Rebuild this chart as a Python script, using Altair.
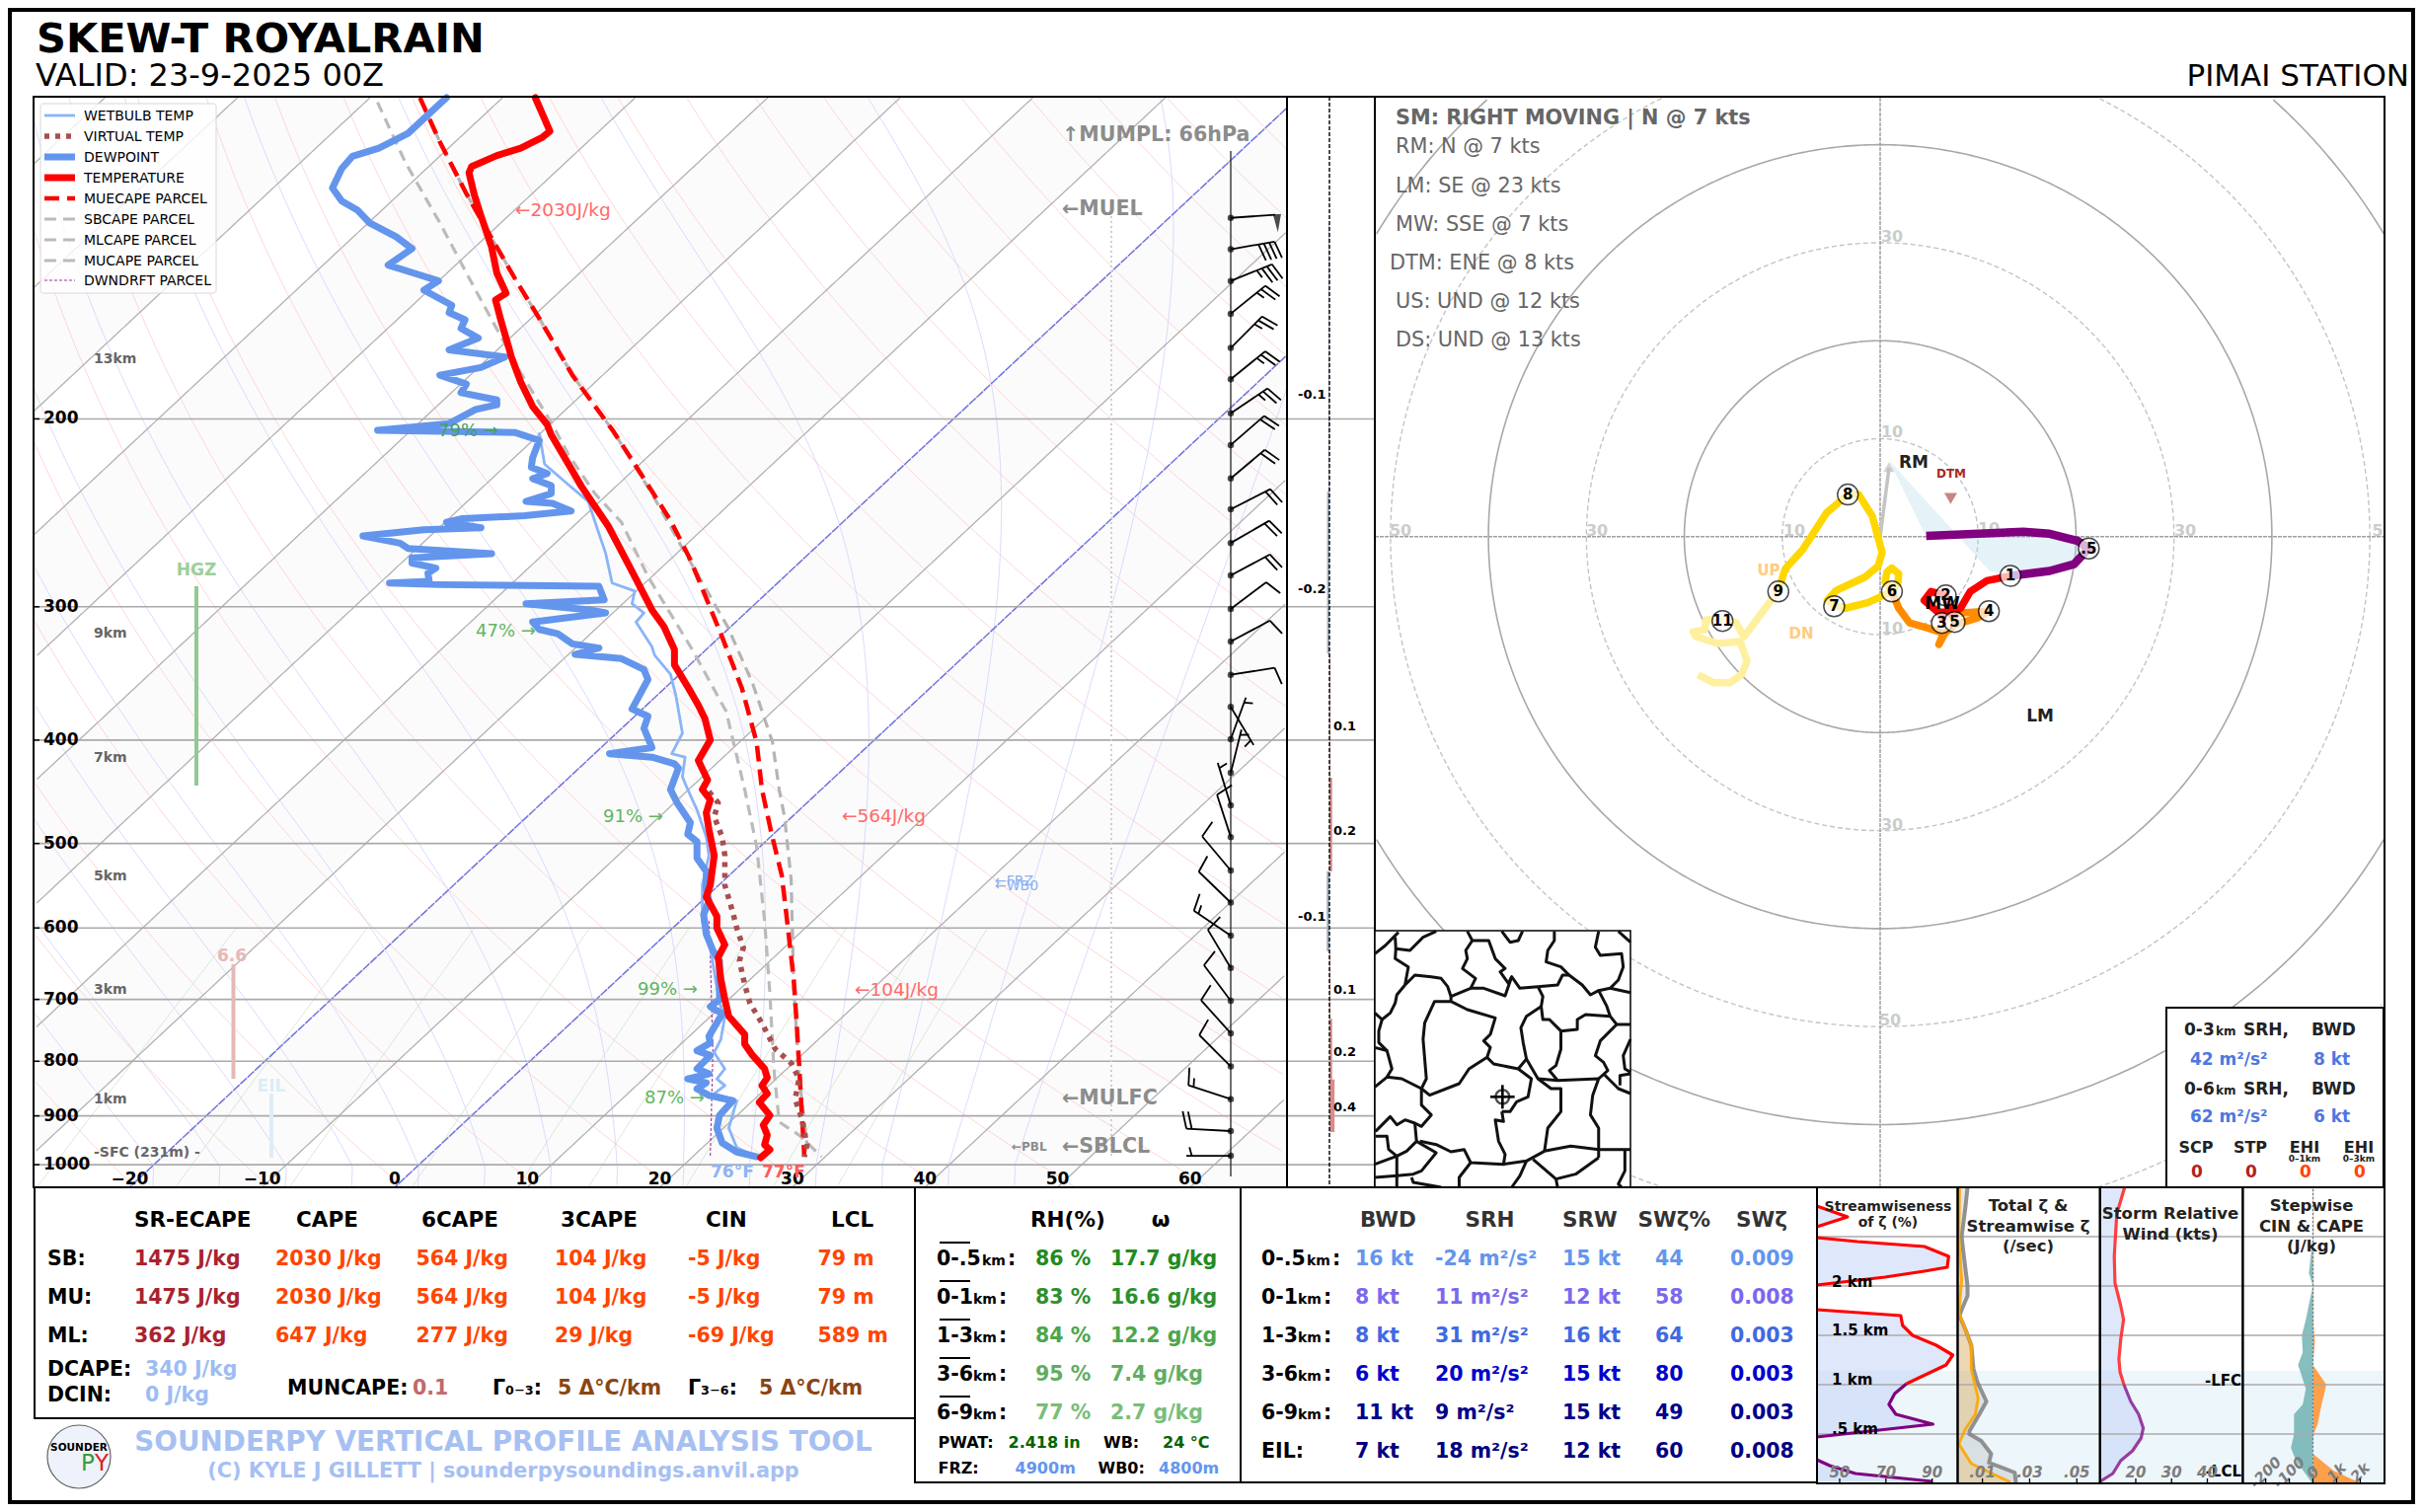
import numpy as np
import pandas as pd
import altair as alt

FONT = "DejaVu Sans"
SKEW = 37.48   # degC of isotherm shift per ln(p)
PK = 469.5     # px per ln(p), only used to lay wind barbs along the pressure axis

# ---------- sounding: pressure (hPa) and temperature read along the isotherm to the base of the chart
temp_p = [100,104,107.5,109,111.5,113.3,116,117.6,123.3,129,138,146,152.5,154.7,161.6,171.4,175,184.7,194.7,202.5,207,220.5,231.5,252,281,302,313,329,340,360,371,382,400,418,436,445,455,468,485,513,547,561,585,600,622,639,670,700,726,755,771,790,813,829,843,858,874,899,918,938,958,968,985]
temp_base = [10.6,11.2,11.7,11.1,9.5,7.7,5.8,5.6,6.0,6.5,7.3,7.7,8.4,7.6,8.0,8.6,8.8,9.5,10.4,11.5,11.8,13.1,14.1,16.1,18.1,19.4,20.3,21.1,21.1,22.3,22.9,23.4,23.8,22.9,23.6,23.2,23.8,23.5,23.7,24.1,23.8,23.5,24.3,24.3,24.9,24.4,24.6,24.9,25.2,26.4,26.4,27.0,27.9,28.1,27.7,28.1,27.5,28.3,27.8,28.1,27.9,28.3,27.6]
dew_p = [100,103.5,108,111.5,113.5,116.5,121.5,125,127.5,131,135,138.5,143.5,146.5,148.5,151.5,156.5,159,161.5,164.5,168,172.3,175,179,182,185.5,189,192,194,196,202,205,206,209.5,217.5,222,225,227.5,231,235,239,240,244,246.5,248,250,253,254,257.5,261.5,264.5,267.5,270,273,276,279,284,285,286,287,295.5,298,302,304,310,315,318,325,328,332.5,335.5,343.5,351,374,380,390,406.5,412,415,421,425,445,458,478,490,498,516,531,551,566,583,608,630,644,700,711,722,747,758,769,782,790,813,822,831,838,849,861,871,899,924,954,973,983]
dew_base = [3.9,2.6,1.0,-1.2,-3.2,-4.0,-4.7,-4.0,-2.8,-1.9,0.1,1.3,-0.5,1.8,3.3,2.2,4.3,4.1,5.3,5.0,6.3,4.1,8.3,6.5,3.4,5.4,5.0,7.7,7.7,6.1,4.1,-1.3,9.1,10.9,10.4,10.3,11.5,10.4,11.8,11.8,9.9,11.9,13.3,9.8,5.1,3.9,6.5,2.2,-2.4,0.4,1.0,7.3,1.3,1.3,3.1,2.5,2.6,-0.4,3.4,15.4,15.8,9.9,14.7,15.9,10.4,10.9,12.3,13.4,15.4,13.6,17.1,18.8,19.1,17.9,19.1,18.8,19.4,16.2,19.4,21.1,21.4,20.8,21.3,22.3,22.1,22.8,22.8,23.5,23.5,23.7,23.3,23.5,24.0,24.5,24.5,23.8,24.7,24.0,23.7,23.8,22.8,23.8,22.8,23.7,22.1,23.5,22.8,23.7,25.5,24.5,24.3,24.7,25.8,27.3]
wet_p = [206,220.5,230,239,254,267,285,290,298,304,310,327,333,347,363,394,412,415,433,445,465,493,513,547,591,626,706,726,763,785,813,831,843,858,871,924,964,983]
wet_base = [10.9,11.3,13.0,14.6,15.3,15.9,16.4,18.1,17.9,18.8,18.2,19.4,19.6,20.8,21.2,21.7,20.9,21.9,21.7,22.1,22.8,23.5,23.7,23.2,23.2,23.8,24.5,24.9,24.6,24.1,24.9,24.3,24.9,24.1,25.8,25.2,25.8,27.3]
virt_p = [447,458,472,493,513,547,580,600,626,644,678,706,737,779,803,831,868,905,958,983]
virt_base = [23.7,24.4,24.1,24.7,24.9,24.9,25.5,25.8,26.3,26.0,26.4,26.8,27.7,28.7,29.9,30.5,30.2,30.7,31.1,30.9]
mue_p = [100,110,123,134,148,162.5,182,205.5,220.5,249,271,318,358,402,445,488,536,591,671,731,803,893,983]
mue_base = [1.9,3.4,5.4,7.1,9.1,11.1,13.4,16.5,18.1,20.8,22.3,24.6,26.2,27.3,27.7,28.4,29.2,29.6,30.1,30.3,30.5,30.7,30.9]
sb_p = [100,110,123,134,148,162.5,182,205.5,235,263,313,354,402,445,472,540,681,826,958,983]
sb_base = [1.9,3.4,5.4,7.1,9.1,11.1,13.4,16.5,19.4,21.6,25.1,27.0,28.5,29.0,29.4,29.9,30.1,30.5,31.1,30.9]
ml_p = [101,115,131,150.7,181,202.5,216,235,250,281,330,376,445,503,591,691,813,912,938,983]
ml_base = [-1.3,0.8,3.4,6.0,9.5,11.9,13.1,15.1,17.1,19.1,22.5,25.0,26.4,27.3,27.9,28.3,28.6,29.0,30.5,32.2]
dd_p = [591,635,785,983]
dd_base = [23.7,23.8,24.0,23.8]

press_ticks = [200,300,400,500,600,700,800,900,1000]
temp_ticks = [-20,-10,0,10,20,30,40,50,60]
temp_labels = ["−20","−10","0","10","20","30","40","50","60"]
mix_ratios = [0.4,1,2,4,7,10,16,24,32]

# ---------- wind barbs
barb_p = [129.6,138.7,148.5,159.4,171.6,183.6,197.6,211.6,227.4,243.1,261.4,280.3,301.4,323.3,347.4,372.4,399.3,429.2,460.6,493.1,530,568,610,654,702,753,809,868,930,981]
barb_dir = [86,80,68,51,45,51,56,49,50,63,60,62,53,62,81,149,20,14,343,342,320,314,304,329,323,318,315,288,273,270]
barb_spd = [50,40,35,25,25,25,25,20,20,20,20,20,10,10,10,5,5,5,5,10,10,10,15,10,10,10,10,15,20,5]

# ---------- vertical velocity
vv_ptop = [131.5,234,332,434,531,631,730,832]
vv_pbot = [234,332,434,531,631,730,832,932]
vv_val = [-0.12,-0.3,0.12,0.35,-0.35,0.12,0.35,0.65]

# ---------- hodograph (u, v in kt)
hodo_purple_u = [4.7,14.6,17.3,20.2,21.3,19.8,17.3,13.3]
hodo_purple_v = [0.07,0.5,0.3,-0.44,-1.2,-2.8,-3.5,-4.0]
hodo_red_u = [13.3,10.9,9.2,8.2,7.6,5.9,4.5,5.2,6.7,7.2,6.3]
hodo_red_v = [-4.0,-4.5,-5.6,-7.3,-7.7,-7.7,-6.5,-5.6,-6.0,-7.3,-8.8]
hodo_orange_u = [6.3,8.0,11.1,9.9,7.6,6.4,6.0,6.6,4.8,3.0,1.9,1.2]
hodo_orange_v = [-8.8,-7.8,-7.6,-8.3,-9.0,-10.0,-11.0,-9.9,-9.3,-8.8,-7.3,-5.6]
hodo_gold_u = [1.2,0.5,0.7,1.2,1.9,1.8,1.2,-1.2,-3.5,-4.7,-5.4,-4.5,-1.5,-0.2,0.2,-0.8,-2.2,-3.3,-5.5,-7.9,-9.7,-10.4]
hodo_gold_v = [-5.6,-4.6,-3.6,-3.2,-3.8,-4.8,-5.6,-6.7,-7.3,-7.0,-6.5,-5.5,-4.1,-3.0,-1.6,2.1,4.3,4.3,2.4,-1.3,-3.3,-5.5]
hodo_pale_u = [-10.4,-13.9,-14.7,-16.1,-17.8,-17.9,-19.1,-18.8,-16.6,-14.3,-13.6,-14.1,-15.3,-17.0,-18.6]
hodo_pale_v = [-5.5,-10.2,-8.8,-8.3,-8.5,-9.5,-9.7,-10.2,-10.9,-10.7,-12.7,-14.0,-14.9,-14.9,-14.1]
hodo_lab = [".5","1","2","3","4","5","6","7","8","9","11"]
hodo_lab_u = [21.3,13.3,6.7,6.3,11.1,7.6,1.2,-4.7,-3.3,-10.4,-16.1]
hodo_lab_v = [-1.2,-4.0,-6.0,-8.8,-7.6,-8.7,-5.6,-7.1,4.3,-5.6,-8.6]
rm_u, rm_v = 0.9, 7.8
srh_v1 = [7.8,0.4]
srh_l1 = [0.9,4.5]
srh_r1 = [0.9,7.65]
srh_v2 = [0.5,0.3,-0.44,-1.2,-2.8,-3.5,-4.0]
srh_l2 = [7.55,7.7,8.4,9.1,10.5,11.2,13.3]
srh_r2 = [14.6,17.3,20.2,21.3,19.8,17.3,13.3]

# ---------- small profile panels (height in km)
sw_red1_p = [40.1,53.4,40.1]; sw_red1_z = [2.81,2.70,2.60]
sw_red2_p = [40.1,57.7,86.6,97.1,96.5,86.6,69.6,40.1]; sw_red2_z = [2.49,2.45,2.40,2.30,2.19,2.15,2.09,2.01]
sw_red3_p = [40.1,76.4,77.2,81.5,91.7,98.9,96.0,78.9]; sw_red3_z = [1.76,1.70,1.60,1.50,1.40,1.30,1.20,1.01]
sw_pur1_p = [78.9,73.8,71.3,74.3,90.3,40.1]; sw_pur1_z = [1.01,0.91,0.80,0.70,0.60,0.47]
sw_pur2_p = [40.1,45.7,56.8,90.0]; sw_pur2_z = [0.24,0.18,0.10,0.02]
tot_v = [.0037,.0028,.0012,.002,.0037,.0037,.0012,.0003,.0028,.0053,.0062,.0078,.0117,.0087,.0045,.0045,.0095,.0137,.0128,.0237,.0242]
tot_z = [3.0,2.8,2.5,2.33,2.0,1.9,1.76,1.7,1.56,1.4,1.16,1.03,.83,.70,.53,.5,.43,.30,.21,.11,.01]
str_v = [.0003,0,.0012,0,.0028,.0053,.0053,.0082,.007,.0028,0,.0053,.022]
str_z = [3.0,2.5,2.06,1.73,1.56,1.4,1.16,.86,.7,.55,.40,.2,.01]
srw_red_v = [16.9,14.7,14.0,14.2,15.8,16.6,15.8,15.3,15.6,16.7]
srw_red_z = [3.0,2.73,2.3,2.03,1.8,1.66,1.46,1.26,1.13,1.0]
srw_pur_v = [16.7,18.6,20.8,22.1,21.5,19.1,15.8,13.6,10.1]
srw_pur_z = [1.0,.83,.7,.56,.46,.33,.23,.1,.02]
cin_v = [0,-8,-17,0,-13,-30,-47,-43,-63,-30,-43,-80,-80,-93,-72,-5]
cin_z = [2.5,2.33,2.13,2.0,1.86,1.66,1.5,1.33,1.2,.96,.8,.7,.5,.36,.23,.01]
cape_v = [30,30,83,0,567,367,200,30,0,867,1950]
cape_z = [3.0,1.6,1.43,1.2,1.0,.8,.6,.5,.3,.13,.01]

# ---------- inset map, borders in grid units of the map square
map_lines = [
 [(8,110),(40,85),(65,60),(80,45)],
 [(70,60),(72,95),(115,100),(155,60),(195,42)],
 [(72,95),(70,125),(110,150),(100,205)],
 [(100,205),(75,235),(70,260),(55,290),(30,310),(8,290)],
 [(100,205),(130,175),(180,180),(210,185),(230,210),(240,240)],
 [(290,42),(305,70),(355,70),(375,125),(405,155),(390,165),(415,200),(425,180),(450,215),(505,210)],
 [(305,70),(285,100),(290,125),(275,155),(315,185),(300,215),(240,240)],
 [(300,215),(340,215),(405,238),(425,180)],
 [(395,42),(420,75),(445,70),(458,42)],
 [(555,42),(555,70),(535,100),(530,135),(575,150),(600,175),(640,205),(665,235),(690,222),(715,270),(725,300)],
 [(690,42),(680,90),(695,115),(760,110),(765,150),(750,190),(725,215),(690,222)],
 [(750,42),(787,75)],
 [(725,215),(787,228)],
 [(505,210),(565,205),(580,175),(600,175)],
 [(505,210),(520,240),(515,270),(520,310),(540,310),(575,345)],
 [(515,270),(470,300),(453,335),(460,380),(470,430),(445,460)],
 [(575,345),(625,340),(625,310),(650,295),(725,300),(745,325),(787,325)],
 [(745,325),(695,375),(680,420),(705,440),(718,465),(690,490)],
 [(575,345),(575,400),(560,450),(540,465),(565,495)],
 [(240,255),(190,255),(160,320),(155,370),(160,430),(165,490),(150,520)],
 [(240,240),(240,255),(290,280),(375,305),(360,355),(340,375),(360,395),(350,425),(295,460),(265,505),(175,540),(150,520)],
 [(350,425),(370,445),(445,460),(485,490),(475,545),(440,560),(420,590),(395,590)],
 [(470,430),(505,490),(545,520),(575,520),(575,590),(535,640),(525,710)],
 [(505,490),(565,495),(690,490),(672,540),(665,600),(690,640),(690,700),(690,730)],
 [(525,710),(605,695),(690,705),(787,705)],
 [(395,590),(400,620),(375,615),(385,680),(405,720),(400,750)],
 [(150,520),(150,570),(180,600),(150,635),(130,625),(100,615),(75,630),(55,605),(10,650)],
 [(130,625),(135,680),(105,710),(75,725),(50,705),(45,665),(10,665)],
 [(8,515),(45,485),(90,490),(150,520)],
 [(8,395),(45,405),(60,460),(45,485)],
 [(30,310),(20,345),(20,380),(45,405)],
 [(135,680),(195,715),(150,770),(125,780),(75,785),(8,790)],
 [(145,680),(195,690),(240,712),(280,705),(300,745),(400,750),(470,740),(525,710)],
 [(75,725),(75,820)],
 [(8,750),(75,725)],
 [(300,745),(265,790),(265,820)],
 [(470,740),(450,785),(425,820)],
 [(490,735),(560,795),(565,820)],
 [(690,730),(620,780),(560,795)],
 [(770,705),(770,770),(750,810),(760,820)],
 [(120,790),(125,805),(210,820)],
 [(787,370),(765,420),(770,460),(787,470)],
 [(705,475),(750,520),(787,535)],
 [(787,475),(755,480),(755,510)],
]
station_x, station_y = 397, 545

# ---------- tables
cape_rows = ["SB:","MU:","ML:"]
srecape = ["1475 J/kg","1475 J/kg","362 J/kg"]
cape = ["2030 J/kg","2030 J/kg","647 J/kg"]
cape6 = ["564 J/kg","564 J/kg","277 J/kg"]
cape3 = ["104 J/kg","104 J/kg","29 J/kg"]
cin = ["-5 J/kg","-5 J/kg","-69 J/kg"]
lcl = ["79 m","79 m","589 m"]
layer_names = ["0-.5","0-1","1-3","3-6","6-9"]
rh_vals = ["86 %","83 %","84 %","95 %","77 %"]
w_vals = ["17.7 g/kg","16.6 g/kg","12.2 g/kg","7.4 g/kg","2.7 g/kg"]
bwd = ["16 kt","8 kt","8 kt","6 kt","11 kt","7 kt"]
srh = ["-24 m²/s²","11 m²/s²","31 m²/s²","20 m²/s²","9 m²/s²","18 m²/s²"]
srw = ["15 kt","12 kt","16 kt","15 kt","15 kt","12 kt"]
swz_pct = ["44","58","64","80","49","60"]
swz = ["0.009","0.008","0.003","0.003","0.003","0.008"]
sm_lines = ["RM: N @ 7 kts","LM: SE @ 23 kts","MW: SSE @ 7 kts","DTM: ENE @ 8 kts","US: UND @ 12 kts","DS: UND @ 13 kts"]

layers = []
ONE = alt.Data(values=[{"k": 1}])


def V(v):
    return alt.value(v - 8)


def sc(a, b, c, d, kind=None):
    kw = dict(domain=[a, b], range=[c - 8, d - 8], nice=False, zero=False)
    if kind:
        kw["type"] = kind
    return alt.Scale(**kw)


SKX = sc(-27.25, 67.31, 34, 1304)
SKY = sc(100, 1050, 99, 1203, "log")
VVX = sc(-5.375, 5.75, 1304, 1393)
BARX = sc(-100, 100, 1147, 1347)
HX = sc(-51.6, 51.5, 1393, 2416)
HY = sc(-66.4, 44.9, 1203, 98)
MX = sc(8, 787, 1393, 1652)
MY = sc(40, 820, 943, 1203)
ZY = sc(0, 3, 1503, 1203)
SWX = sc(40.2, 101, 1841, 1983.5)
TOTX = sc(-0.0005, 0.0598, 1983.5, 2127.7)
SRWX = sc(10, 49.9, 2127.7, 2272.4)
CINX = sc(-297, 303, 2272.4, 2416)
CAPEX = sc(-2970, 3030, 2272.4, 2416)


def text(x, y, s, size, color="#000000", bold=False, align="left", base="alphabetic", angle=None, op=None, italic=False):
    kw = dict(text=s, fontSize=size, font=FONT, align=align, baseline=base, color=color)
    if bold:
        kw["fontWeight"] = "bold"
    if angle is not None:
        kw["angle"] = angle
    if op is not None:
        kw["opacity"] = op
    if italic:
        kw["fontStyle"] = "italic"
    layers.append(alt.Chart(ONE).mark_text(**kw).encode(x=V(x), y=V(y)))


def rect(x0, y0, x1, y1, fill="#ffffff", fop=1, stroke=None, sw=1, radius=None):
    kw = dict(fill=fill, fillOpacity=fop)
    if stroke:
        kw.update(stroke=stroke, strokeWidth=sw)
    if radius:
        kw["cornerRadius"] = radius
    layers.append(alt.Chart(ONE).mark_rect(**kw).encode(x=V(x0), x2=V(x1), y=V(y0), y2=V(y1)))


def rule(x0, y0, x1, y1, color="#000000", width=1, dash=None, op=None):
    kw = dict(color=color, strokeWidth=width)
    if dash:
        kw["strokeDash"] = dash
    if op is not None:
        kw["opacity"] = op
    layers.append(alt.Chart(ONE).mark_rule(**kw).encode(x=V(x0), x2=V(x1), y=V(y0), y2=V(y1)))


def line(x, y, XS, YS, color, width, dash=None, op=None, seg=None, cap=None):
    d = pd.DataFrame({"x": x, "y": y})
    d["i"] = np.arange(len(d))
    kw = dict(color=color, strokeWidth=width, strokeJoin="round")
    if dash:
        kw["strokeDash"] = dash
    if op is not None:
        kw["opacity"] = op
    if cap:
        kw["strokeCap"] = cap
    enc = dict(x=alt.X("x:Q", scale=XS, axis=None), y=alt.Y("y:Q", scale=YS, axis=None), order="i:Q")
    if seg is not None:
        d["s"] = seg
        enc["detail"] = "s:N"
    layers.append(alt.Chart(d).mark_line(**kw).encode(**enc))


def area_h(x, x2, y, XS, YS, color, op=1.0, seg=None):
    d = pd.DataFrame({"x": x, "x2": x2, "y": y})
    enc = dict(x=alt.X("x:Q", scale=XS, axis=None), x2="x2:Q", y=alt.Y("y:Q", scale=YS, axis=None))
    if seg is not None:
        d["s"] = seg
        enc["detail"] = "s:N"
    layers.append(alt.Chart(d).mark_area(orient="horizontal", color=color, opacity=op).encode(**enc))


def point(x, y, XS, YS, shape, size, fill, stroke=None, sw=0, op=None):
    d = pd.DataFrame({"x": np.atleast_1d(x), "y": np.atleast_1d(y)})
    kw = dict(shape=shape, size=size, filled=True, fill=fill)
    if stroke:
        kw.update(stroke=stroke, strokeWidth=sw)
    if op is not None:
        kw["opacity"] = op
    layers.append(alt.Chart(d).mark_point(**kw).encode(x=alt.X("x:Q", scale=XS, axis=None), y=alt.Y("y:Q", scale=YS, axis=None)))


# ---------- black frame along the edge of the canvas
rect(8, 8, 2447, 1524, fill="#000000")
rect(12, 12, 2443, 1520, fill="#ffffff")

# ---------- background lines of the skew-T
LOGP = np.exp(np.linspace(np.log(100), np.log(1050), 300))
XMIN, XMAX = -27.25, 67.31


def to_base(t, p):
    return np.asarray(t) + SKEW * np.log(1050 / np.asarray(p))


def iso_table(curves):
    xs, ys, ss = [], [], []
    for k, (tt, pp) in enumerate(curves):
        b = to_base(tt, pp)
        m = (b >= XMIN) & (b <= XMAX)
        xs += list(b[m]); ys += list(pp[m]); ss += [k] * int(m.sum())
    return xs, ys, ss


bx, bx2, by, bs = [], [], [], []
for k, t0 in enumerate(range(-100, 80, 20)):
    b1 = np.clip(to_base(t0, LOGP), XMIN, XMAX)
    b2 = np.clip(to_base(t0 + 10, LOGP), XMIN, XMAX)
    bx += list(b1); bx2 += list(b2); by += list(LOGP); bs += [k] * len(LOGP)
area_h(bx, bx2, by, SKX, SKY, "#fbfbfb", seg=bs)

dry = [((th * (LOGP / 1000) ** 0.286) - 273.15, LOGP) for th in range(220, 500, 10)]
line(*iso_table(dry)[:2], SKX, SKY, "#ffcaca", 0.8, seg=iso_table(dry)[2])


def moist_curve(t1000):
    pgrid = LOGP[::-1]
    t = t1000 + 273.15
    i0 = int(np.argmin(np.abs(pgrid - 1000)))
    tv = np.zeros(len(pgrid))
    tv[i0] = t
    for i in range(i0, len(pgrid) - 1):
        es = 6.112 * np.exp(17.67 * (t - 273.15) / (t - 29.65))
        rs = 0.622 * es / (pgrid[i] - es)
        g = (287.0 * t + 2.5e6 * rs) / (1004.0 + 2.5e6 ** 2 * rs * 0.622 / (287.0 * t * t))
        t = t + g * np.log(pgrid[i + 1] / pgrid[i])
        tv[i + 1] = t
    tv[:i0] = tv[i0] + 0.35 * (pgrid[:i0] - 1000) / 10
    return tv[::-1] - 273.15, LOGP


moist = [moist_curve(t) for t in range(-20, 50, 5)]
mx, my, ms = iso_table(moist)
line(mx, my, SKX, SKY, "#d0d0ff", 0.8, seg=ms)

mixp = np.linspace(600, 1050, 40)
mix = []
for w in mix_ratios:
    e = mixp * w / (622 + w)
    le = np.log(e / 6.112)
    mix.append((243.5 * le / (17.67 - le), mixp))
hx, hy, hs = iso_table(mix)
line(hx, hy, SKX, SKY, "#cfe2cf", 0.8, seg=hs)

ix, iy, iss = [], [], []
for k, t in enumerate([t for t in range(-120, 80, 10) if t not in (0, -20)]):
    b = to_base(t, LOGP)
    m = (b >= XMIN) & (b <= XMAX)
    ix += list(b[m]); iy += list(LOGP[m]); iss += [k] * int(m.sum())
line(ix, iy, SKX, SKY, "#b2b2b2", 1.3, seg=iss)
ix, iy, iss = [], [], []
for k, t in enumerate([-20, 0]):
    b = to_base(t, LOGP)
    m = (b >= XMIN) & (b <= XMAX)
    ix += list(b[m]); iy += list(LOGP[m]); iss += [k] * int(m.sum())
line(ix, iy, SKX, SKY, "#7474dc", 1.5, dash=[9, 1], seg=iss)

# pressure grid through skew-T and vertical-velocity panel
layers.append(alt.Chart(pd.DataFrame({"p": press_ticks})).mark_rule(color="#aaaaaa", strokeWidth=1.6).encode(
    y=alt.Y("p:Q", scale=SKY, axis=None), x=V(34), x2=V(1393)))
layers.append(alt.Chart(pd.DataFrame({"p": press_ticks})).mark_rule(color="#000000", strokeWidth=1.5).encode(
    y=alt.Y("p:Q", scale=SKY, axis=None), x=V(34), x2=V(40)))

# hazard / layer bars
rule(199, 594, 199, 796, "#93c993", 4)
text(199, 583, "HGZ", 17, "#9ccf9c", True, "center")
rule(236.5, 977, 236.5, 1093, "#e6b8b8", 4)
text(235, 974, "6.6", 17, "#e6b8b8", True, "center")
rule(275, 1108, 275, 1173, "#dcedf5", 4)
text(275, 1106, "EIL", 17, "#dcedf5", True, "center")

# MUEL-SBLCL dotted
rule(1126, 219, 1126, 1171, "#cfcfcf", 2, dash=[2, 3])

# profiles
line(dd_base, dd_p, SKX, SKY, "#a030a0", 1.1, dash=[3, 2])
line(ml_base, ml_p, SKX, SKY, "#bbbbbb", 3.2, dash=[11, 7])
line(sb_base, sb_p, SKX, SKY, "#b4b4b4", 3.2, dash=[11, 7])
line(mue_base, mue_p, SKX, SKY, "#ff0000", 4.5, dash=[16, 8])
line(wet_base, wet_p, SKX, SKY, "#8ab4f8", 2.8)
line(dew_base, dew_p, SKX, SKY, "#6495ed", 7, cap="round")
line(virt_base, virt_p, SKX, SKY, "#a84f4f", 5.5, dash=[5, 6])
line(temp_base, temp_p, SKX, SKY, "#ff0000", 7, cap="round")

# wind barbs
rule(1247, 153, 1247, 1192, "#333333", 1.4)
bx, by, bs, bi = [], [], [], 0
pen_x, pen_y = [], []
for p0, dirn, spd in zip(barb_p, barb_dir, barb_spd):
    th = np.radians(dirn)
    sx, sy = np.sin(th), np.cos(th)
    cw = th + np.radians(75)
    cx, cy = np.sin(cw), np.cos(cw)

    def seg(a, b):
        global bi
        for (dx, dy) in (a, b):
            bx.append(dx); by.append(p0 * np.exp(-dy / PK)); bs.append(bi)
        bi += 1

    seg((0, 0), (45 * sx, 45 * sy))
    rem, pos = spd, 45.0
    if rem >= 50:
        pen_x.append(45 * sx + 9 * cx - 1); pen_y.append(p0 * np.exp(-(45 * sy + 9 * cy) / PK))
        rem -= 50
    while rem >= 10:
        seg((pos * sx, pos * sy), (pos * sx + 18 * cx, pos * sy + 18 * cy))
        pos -= 5.5; rem -= 10
    if rem >= 5:
        if pos == 45.0:
            pos -= 5.5
        seg((pos * sx, pos * sy), (pos * sx + 9 * cx, pos * sy + 9 * cy))
line(bx, by, BARX, SKY, "#000000", 1.8, seg=bs)
point(pen_x, pen_y, BARX, SKY, "M-0.45,-1 L0.45,-1 L0.1,1 Z", 330, "#000000")
point([0] * len(barb_p), barb_p, BARX, SKY, "circle", 42, "#000000")

# tick labels on the skew-T
layers.append(alt.Chart(pd.DataFrame({"p": press_ticks, "t": [str(v) for v in press_ticks]})).mark_text(
    fontSize=17, font=FONT, fontWeight="bold", align="left", baseline="middle", color="#000000").encode(
    y=alt.Y("p:Q", scale=SKY, axis=None), x=V(44), text="t:N"))
layers.append(alt.Chart(pd.DataFrame({"v": temp_ticks, "t": temp_labels})).mark_text(
    fontSize=17, font=FONT, fontWeight="bold", align="center", baseline="alphabetic", color="#000000").encode(
    x=alt.X("v:Q", scale=SKX, axis=None), y=V(1200), text="t:N"))
for lab, yy in [("13km", 368), ("9km", 646), ("7km", 772), ("5km", 892), ("3km", 1007), ("1km", 1118), ("-SFC (231m) -", 1172)]:
    text(95, yy, lab, 14, "#666666", True)
text(720, 1193, "76°F", 17, "#8db4f5", True)
text(772, 1193, "77°F", 17, "#ff5a5a", True)
text(1076, 143, "↑MUMPL: 66hPa", 20.6, "#8c8c8c", True)
text(1076, 218, "←MUEL", 20.6, "#8c8c8c", True)
text(1076, 1119, "←MULFC", 20.6, "#8c8c8c", True)
text(1076, 1168, "←SBLCL", 20.6, "#8c8c8c", True)
text(1025, 1166, "←PBL", 12, "#8c8c8c", True)
text(1008, 897, "←FRZ", 14, "#8ab0f5")
text(1008, 902, "←WB0", 14, "#8ab0f5")
text(522, 219, "←2030J/kg", 18.5, "#ff6a6a")
text(853, 833, "←564J/kg", 18.5, "#ff6a6a")
text(866, 1009, "←104J/kg", 18.5, "#ff6a6a")
text(444, 442, "79% →", 18, "#45a060")
text(482, 645, "47% →", 18, "#62b562")
text(611, 833, "91% →", 18, "#62b562")
text(646, 1008, "99% →", 18, "#62b562")
text(653, 1118, "87% →", 18, "#62b562")

# legend
rect(41, 105, 219, 297, "#ffffff", 0.8, "#d8d8d8", 1, 3)
leg = [("WETBULB TEMP", 117, "#8ab4f8", 2.8, None), ("VIRTUAL TEMP", 138, "#a84f4f", 5.5, [5, 6]), ("DEWPOINT", 159, "#6495ed", 7, None),
       ("TEMPERATURE", 180, "#ff0000", 7, None), ("MUECAPE PARCEL", 201, "#ff0000", 4.5, [15, 8]), ("SBCAPE PARCEL", 222, "#bbbbbb", 3.2, [12, 7]),
       ("MLCAPE PARCEL", 243, "#bbbbbb", 3.2, [12, 7]), ("MUCAPE PARCEL", 264, "#bbbbbb", 3.2, [12, 7]), ("DWNDRFT PARCEL", 284, "#a030a0", 1.1, [3, 2])]
for name, yy, col, wd, ds in leg:
    rule(45, yy, 76, yy, col, wd, ds)
    text(85, yy + 5, name, 14, "#000000")

rect(34, 98, 1304, 1203, fop=0, stroke="#000000", sw=2)

# ---------- vertical velocity panel
d = pd.DataFrame({"a": vv_ptop, "b": vv_pbot, "v": vv_val, "z": [0.0] * len(vv_val),
                  "c": ["neg" if v < 0 else "pos" for v in vv_val]})
for key, col in (("neg", "#a3adc4"), ("pos", "#d98c8c")):
    layers.append(alt.Chart(d[d.c == key]).mark_rect(color=col).encode(
        x=alt.X("z:Q", scale=VVX, axis=None), x2="v:Q", y=alt.Y("a:Q", scale=SKY, axis=None), y2="b:Q"))
rule(1347, 98, 1347, 1203, "#000000", 1.4, dash=[4, 2])
for lab, xx, yy in [("-0.1", 1315, 399.6), ("-0.2", 1315, 597), ("0.1", 1351, 735.6), ("0.2", 1351, 841.7), ("-0.1", 1315, 929),
                    ("0.1", 1351, 1003), ("0.2", 1351, 1066), ("0.4", 1351, 1122)]:
    text(xx, yy, lab, 13, "#000000", True, base="middle")
rect(1304, 98, 1393, 1203, fop=0, stroke="#000000", sw=2)

# ---------- hodograph
for radii, col, wd, dash in (((10, 30, 50, 70), "#c4c4c4", 1.4, [5, 3]), ((20, 40, 60, 80), "#a8a8a8", 1.6, None)):
    ux, vy, ss, s = [], [], [], 0
    for r in radii:
        a = np.radians(np.arange(0, 360.5, 0.5))
        uu, vv = r * np.cos(a), r * np.sin(a)
        inside = (uu > -51.6) & (uu < 51.5) & (vv > -66.4) & (vv < 44.9)
        prev = False
        for i in range(len(a)):
            if inside[i]:
                if not prev:
                    s += 1
                ux.append(uu[i]); vy.append(vv[i]); ss.append(s)
            prev = inside[i]
    line(ux, vy, HX, HY, col, wd, dash=dash, seg=ss)
line([-51.6, 51.5], [0, 0], HX, HY, "#a0a0a0", 1.5, dash=[4, 1])
line([0, 0], [-66.4, 44.9], HX, HY, "#a0a0a0", 1.5, dash=[4, 1])
for lab, xx, yy in [("10", 1917, 443), ("30", 1917, 245), ("50", 1915, 1039), ("10", 1917, 642), ("30", 1917, 841), ("10", 1818, 543),
                    ("30", 1618, 543), ("50", 1419, 543), ("10", 2015, 541), ("30", 2214, 543), ("5", 2409, 543)]:
    text(xx, yy, lab, 16, "#cccccc", True, "center")

area_h(srh_l1, srh_r1, srh_v1, HX, HY, "#add8e6", 0.32)
area_h(srh_l2, srh_r2, srh_v2, HX, HY, "#add8e6", 0.32)
line([0, rm_u], [0, rm_v - 0.8], HX, HY, "#c4c4c4", 3.5)
point(rm_u, rm_v - 0.7, HX, HY, "triangle-up", 130, "#c0c0c0")
line(hodo_pale_u, hodo_pale_v, HX, HY, "#fff0a0", 7.5)
line(hodo_gold_u, hodo_gold_v, HX, HY, "#ffd700", 7.5)
line(hodo_orange_u, hodo_orange_v, HX, HY, "#ff8c00", 7.5)
line(hodo_red_u, hodo_red_v, HX, HY, "#ff0000", 7.5)
line(hodo_purple_u, hodo_purple_v, HX, HY, "#800080", 8.5)
point(hodo_lab_u, hodo_lab_v, HX, HY, "circle", 441, "#ffffff", "#000000", 1.5)
layers.append(alt.Chart(pd.DataFrame({"u": hodo_lab_u, "v": hodo_lab_v, "t": hodo_lab})).mark_text(
    fontSize=15, font=FONT, fontWeight="bold", align="center", baseline="middle", color="#000000").encode(
    x=alt.X("u:Q", scale=HX, axis=None), y=alt.Y("v:Q", scale=HY, axis=None), text="t:N"))
text(1939, 474, "RM", 17, "#222222", True, "center")
text(2067, 731, "LM", 17, "#222222", True, "center")
text(1968, 617, "MW", 17, "#000000", True, "center")
text(1977, 484, "DTM", 12, "#a52a2a", True, "center")
point(7.2, 3.9, HX, HY, "triangle-down", 170, "#b05050")
text(1792, 583, "UP", 15, "#ffcc80", True, "center")
text(1825, 647, "DN", 15, "#ffcc80", True, "center")
text(1414, 126, "SM: RIGHT MOVING | N @ 7 kts", 20.8, "#666666", True)
for s, xx, yy in zip(sm_lines, [1414, 1414, 1414, 1408, 1414, 1414], [155, 195, 234, 273, 312, 351]):
    text(xx, yy, s, 20.8, "#666666")
rect(1393, 98, 2416, 1203, fop=0, stroke="#000000", sw=2)

# inset map
rect(1393, 943, 1652, 1203, stroke="#000000", sw=1.5)
mxs, mys, mss = [], [], []
for k, pl in enumerate(map_lines):
    for a, b in pl:
        mxs.append(a); mys.append(b); mss.append(k)
line(mxs, mys, MX, MY, "#111111", 3, seg=mss)
point(station_x, station_y, MX, MY, "circle", 196, "none", "#000000", 2.4)
line([station_x - 37, station_x + 37], [station_y, station_y], MX, MY, "#000000", 2.6)
line([station_x, station_x], [station_y - 36, station_y + 36], MX, MY, "#000000", 2.6)

# small storm table
rect(2195, 1021, 2415, 1203, stroke="#000000", sw=2)
for base, lab, val1, val2, yv in [(1049, "0-3", "42 m²/s²", "8 kt", 1079), (1109, "0-6", "62 m²/s²", "6 kt", 1137)]:
    text(2213, base, lab, 17, "#222222", True)
    text(2245, base, "km", 12, "#222222", True)
    text(2273, base, "SRH,", 17, "#222222", True)
    text(2342, base, "BWD", 17, "#222222", True)
    text(2219, yv, val1, 17, "#4f76e0", True)
    text(2344, yv, val2, 17, "#4f76e0", True)
for lab, cx, col in [("SCP", 2225, "#b22222"), ("STP", 2280, "#b22222"), ("EHI", 2335, "#ff4500"), ("EHI", 2390, "#ff4500")]:
    text(cx, 1168, lab, 16, "#222222", True, "center")
    text(cx + 1, 1193, "0", 17, col, True, "center")
text(2335, 1177, "0–1km", 9, "#222222", True, "center")
text(2390, 1177, "0–3km", 9, "#222222", True, "center")

# ---------- header
text(37, 53, "SKEW-T ROYALRAIN", 41.6, "#000000", True)
text(36, 87, "VALID: 23-9-2025 00Z", 32, "#000000")
text(2441, 87, "PIMAI STATION", 31, "#000000", align="right")

# ---------- table 1
rect(35, 1203, 927, 1437, stroke="#000000", sw=2)
for lab, xx in [("SR-ECAPE", 136), ("CAPE", 300), ("6CAPE", 427), ("3CAPE", 568), ("CIN", 715), ("LCL", 842)]:
    text(xx, 1243, lab, 21.5, "#000000", True)
for i, yy in enumerate([1282, 1321, 1360]):
    text(48, yy, cape_rows[i], 20.5, "#000000", True)
    text(136, yy, srecape[i], 20.5, "#a8232f", True)
    text(279, yy, cape[i], 20.5, "#ff4500", True)
    text(421.5, yy, cape6[i], 20.5, "#ff4500", True)
    text(562, yy, cape3[i], 20.5, "#ff4500", True)
    text(697, yy, cin[i], 20.5, "#ff4500", True)
    text(828.5, yy, lcl[i], 20.5, "#ff4500", True)
text(48, 1394, "DCAPE:", 20.5, "#000000", True)
text(147, 1394, "340 J/kg", 20.5, "#9dbcf2", True)
text(48, 1420, "DCIN:", 20.5, "#000000", True)
text(147, 1420, "0 J/kg", 20.5, "#9dbcf2", True)
text(291, 1413, "MUNCAPE:", 20.5, "#000000", True)
text(418, 1413, "0.1", 20.5, "#c06a6a", True)
text(499, 1413, "Γ₀₋₃:", 20.5, "#000000", True)
text(565, 1413, "5 Δ°C/km", 20.5, "#8b4513", True)
text(697, 1413, "Γ₃₋₆:", 20.5, "#000000", True)
text(769, 1413, "5 Δ°C/km", 20.5, "#8b4513", True)

# logo + footer
point(0, 0, sc(-1, 1, 79, 81), sc(-1, 1, 1477, 1475), "circle", 4096, "#e8eefa", "#222222", 1.2)
text(80, 1470, "SOUNDER", 10.5, "#000000", True, "center")
text(82, 1490, "P", 23, "#3a9a3a", False)
text(96, 1490, "Y", 23, "#e02020", False)
text(510, 1470, "SOUNDERPY VERTICAL PROFILE ANALYSIS TOOL", 27.8, "#a7c0f2", True, "center")
text(510, 1497, "(C) KYLE J GILLETT | sounderpysoundings.anvil.app", 20.8, "#a7c0f2", True, "center")

# ---------- table 2
rect(927, 1203, 1257, 1502, stroke="#000000", sw=2)
text(1044, 1243, "RH(%)", 21.5, "#000000", True)
text(1176, 1243, "ω", 21.5, "#000000", True, "center")
rh_cols = ["#228b22", "#2e8f2e", "#4ca64c", "#60ad60", "#79bd79"]
row_y = [1282, 1321, 1360, 1399, 1438, 1477]
for i, nm in enumerate(layer_names):
    yy = row_y[i]
    off = 0 if i == 0 else -9
    rule(952, yy - 23, 983, yy - 23, "#000000", 2)
    text(949, yy, nm, 20.5, "#000000", True)
    text(995 + off, yy, "km", 14, "#000000", True)
    text(1021 + off, yy, ":", 20.5, "#000000", True)
    text(1049, yy, rh_vals[i], 20.5, rh_cols[i], True)
    text(1125, yy, w_vals[i], 20.5, rh_cols[i], True)
text(950.5, 1467, "PWAT:", 16, "#000000", True)
text(1021.5, 1467, "2.418 in", 16, "#006400", True)
text(1118, 1467, "WB:", 16, "#000000", True)
text(1178, 1467, "24 °C", 16, "#006400", True)
text(950.5, 1493, "FRZ:", 16, "#000000", True)
text(1028.6, 1493, "4900m", 16, "#6495ed", True)
text(1112.5, 1493, "WB0:", 16, "#000000", True)
text(1174, 1493, "4800m", 16, "#6495ed", True)

# ---------- table 3
rect(1257, 1203, 1841, 1502, stroke="#000000", sw=2)
for lab, xx in [("BWD", 1378), ("SRH", 1484.5), ("SRW", 1583), ("SWζ%", 1659.5), ("SWζ", 1759)]:
    text(xx, 1243, lab, 21.5, "#333333", True)
rcols = ["#6495ed", "#7b68ee", "#4169e1", "#0000cd", "#00008b", "#000080"]
for i in range(6):
    yy = row_y[i]
    if i < 5:
        off = 0 if i == 0 else -9
        text(1278, yy, layer_names[i], 20.5, "#000000", True)
        text(1324 + off, yy, "km", 14, "#000000", True)
        text(1350 + off, yy, ":", 20.5, "#000000", True)
    else:
        text(1278, yy, "EIL:", 20.5, "#000000", True)
    text(1373, yy, bwd[i], 20.5, rcols[i], True)
    text(1454, yy, srh[i], 20.5, rcols[i], True)
    text(1583, yy, srw[i], 20.5, rcols[i], True)
    text(1677, yy, swz_pct[i], 20.5, rcols[i], True)
    text(1753, yy, swz[i], 20.5, rcols[i], True)

# ---------- profile panels
layers.append(alt.Chart(pd.DataFrame({"a": [1.14], "b": [0.0]})).mark_rect(color="#add8e6", opacity=0.22).encode(
    y=alt.Y("a:Q", scale=ZY, axis=None), y2="b:Q", x=V(1841), x2=V(2416)))
sw_all_p = sw_red1_p + sw_red2_p + sw_red3_p + sw_pur1_p[1:] + sw_pur2_p
sw_all_z = sw_red1_z + sw_red2_z + sw_red3_z + sw_pur1_z[1:] + sw_pur2_z
area_h(sw_all_p, [40.2] * len(sw_all_p), sw_all_z, SWX, ZY, "#c5d3f5", 0.55)
srw_all_v, srw_all_z = srw_red_v + srw_pur_v[1:], srw_red_z + srw_pur_z[1:]
area_h(srw_all_v, [10] * len(srw_all_v), srw_all_z, SRWX, ZY, "#c5d3f5", 0.55)
area_h(tot_v, [0] * len(tot_v), tot_z, TOTX, ZY, "#a0a0a0", 0.25)
area_h(str_v, [0] * len(str_v), str_z, TOTX, ZY, "#ffa500", 0.22)
area_h(cin_v, [0] * len(cin_v), cin_z, CINX, ZY, "#5fa8a8", 0.75)
area_h(cape_v, [0] * len(cape_v), cape_z, CAPEX, ZY, "#ff9a40", 0.95)
layers.append(alt.Chart(pd.DataFrame({"z": [0.5, 1.0, 1.5, 2.0, 2.5]})).mark_rule(color="#aaaaaa", strokeWidth=1.5).encode(
    y=alt.Y("z:Q", scale=ZY, axis=None), x=V(1841), x2=V(2416)))
line([0, 0], [0, 3], CINX, ZY, "#5588aa", 1.3, dash=[2, 2])
for xs_, zs_, col in [(sw_red1_p, sw_red1_z, "#ff0000"), (sw_red2_p, sw_red2_z, "#ff0000"), (sw_red3_p, sw_red3_z, "#ff0000"),
                      (sw_pur1_p, sw_pur1_z, "#800080"), (sw_pur2_p, sw_pur2_z, "#800080")]:
    line(xs_, zs_, SWX, ZY, col, 3.2)
line(tot_v, tot_z, TOTX, ZY, "#808080", 4, op=0.85)
line(str_v, str_z, TOTX, ZY, "#ffa500", 3, op=0.9)
line(srw_red_v, srw_red_z, SRWX, ZY, "#ff2020", 3.2, op=0.85)
line(srw_pur_v, srw_pur_z, SRWX, ZY, "#8a1f90", 3.2, op=0.85)

for lab, yy in [("2 km", 1304), (".5 km", 1453), ("1 km", 1403), ("1.5 km", 1353)]:
    text(1856, yy, lab, 15, "#000000", True)
text(2271, 1404, "-LFC", 15, "#000000", True, "right")
text(2271, 1496, "-LCL", 15, "#000000", True, "right")


def ticks(vals, labs, XS, angle=None):
    d = pd.DataFrame({"v": vals, "t": labs})
    kw = dict(fontSize=15, font=FONT, fontWeight="bold", fontStyle="italic", color="#7d7d7d", align="center", baseline="middle")
    if angle:
        kw["angle"] = angle
    layers.append(alt.Chart(d).mark_text(**kw).encode(x=alt.X("v:Q", scale=XS, axis=None), y=V(1492), text="t:N"))
    layers.append(alt.Chart(d).mark_rule(color="#000000", strokeWidth=1.3).encode(x=alt.X("v:Q", scale=XS, axis=None), y=V(1498), y2=V(1503)))


ticks([50, 70, 90], ["50", "70", "90"], SWX)
ticks([.01, .03, .05], [".01", ".03", ".05"], TOTX)
ticks([20, 30, 40], ["20", "30", "40"], SRWX)
ticks([-200, -100, 0, 100, 200], ["-200", "-100", "0", "1k", "2k"], CINX, angle=315)

text(1913, 1227, "Streamwiseness", 14, "#222222", True, "center")
text(1913, 1243, "of ζ (%)", 14, "#222222", True, "center")
for s, yy in [("Total ζ &", 1227), ("Streamwise ζ", 1248), ("(/sec)", 1268)]:
    text(2055, yy, s, 16.5, "#222222", True, "center")
for s, yy in [("Storm Relative", 1235), ("Wind (kts)", 1256)]:
    text(2199, yy, s, 16.5, "#222222", True, "center")
for s, yy in [("Stepwise", 1227), ("CIN & CAPE", 1248), ("(J/kg)", 1268)]:
    text(2342, yy, s, 16.5, "#222222", True, "center")

for x0, x1 in [(1841, 1983.5), (1983.5, 2127.7), (2127.7, 2272.4), (2272.4, 2416)]:
    rect(x0, 1203, x1, 1503, fop=0, stroke="#000000", sw=2)

chart = alt.layer(*layers).resolve_scale(x="independent", y="independent").properties(
    width=2439, height=1516, padding=0, background="#ffffff",
    autosize=alt.AutoSizeParams(type="none"),
).configure_view(strokeWidth=0)

chart.save("out.html", embed_options={"renderer": "svg", "actions": False})
